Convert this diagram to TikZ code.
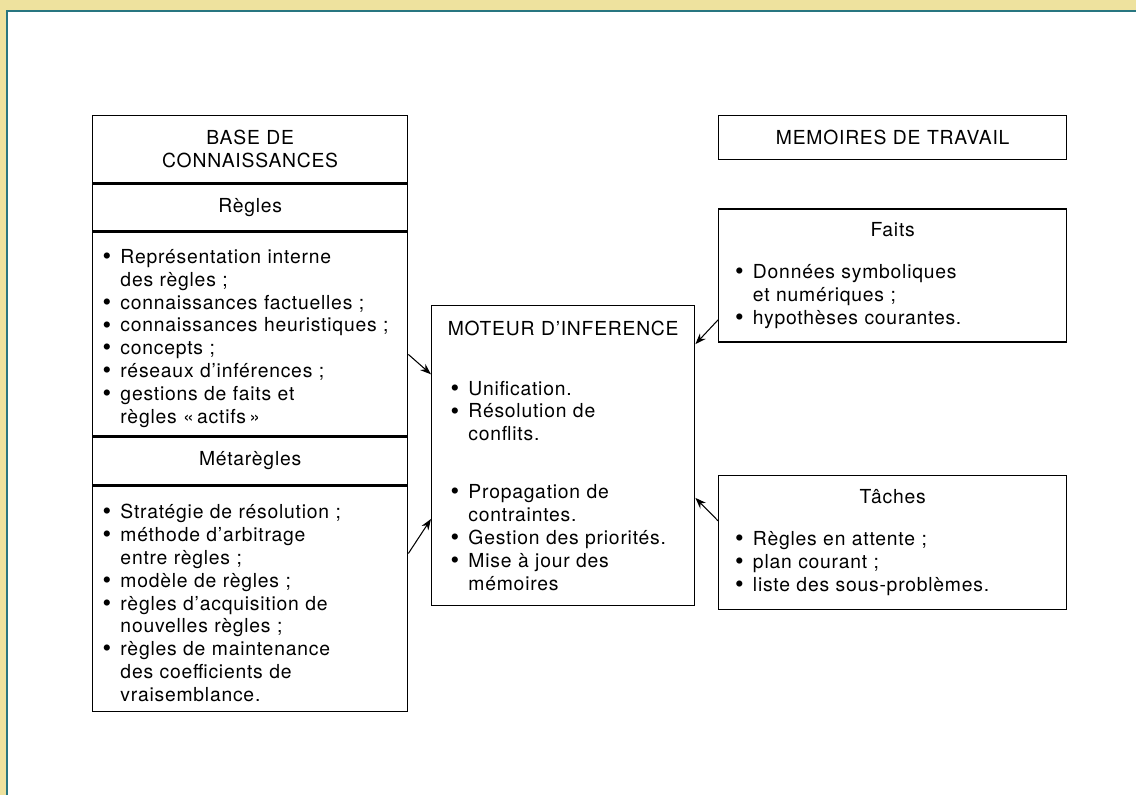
\documentclass[tikz,border=0pt]{standalone}
\usepackage{fontspec}
\setmainfont{TeX Gyre Heros}[LetterSpace=4]
\usetikzlibrary{positioning, arrows.meta, calc}

\definecolor{Bande}{RGB}{238,226,158}
\definecolor{Filet}{RGB}{40,118,128}

\tikzstyle{titre} = [rectangle, draw, line width=0.8pt, minimum width=6.3cm, text width=5.8cm, align=center, inner sep=0pt]
\tikzstyle{liste} = [rectangle, draw, line width=0.8pt, inner ysep=0pt, align=left]
\tikzstyle{fleche} = [line width=0.6pt, -{Stealth[length=2.2mm, width=1.6mm]}]

% puce avec retrait suspendu
\newcommand{\puce}{\par\noindent\hangindent=0.92em\hangafter=1\makebox[0.92em][l]{\raisebox{-0.12ex}{\fontsize{14}{13}\selectfont\textbullet}}}

\begin{document}
\begin{tikzpicture}[x=0.02cm, y=-0.02cm, font=\fontsize{11}{13}\selectfont]
\useasboundingbox (0,0) rectangle (1136,795);
\fill[white] (0,0) rectangle (1136,795);
\fill[Bande] (0,0) rectangle (1136,10);
\fill[Bande] (0,0) rectangle (6,795);
\draw[Filet, line width=1pt] (7,795) -- (7,11) -- (1136,11);

% base de connaissances
\node[titre, minimum height=1.34cm, anchor=north west] (base) at (92,115) {BASE DE\\CONNAISSANCES};
\node[titre, minimum height=0.94cm, below=0pt of base] (regles) {Règles};
\node[liste, minimum height=4.06cm, text width=5.9cm, inner xsep=0.2cm, below=0pt of regles] (regliste) {%
  \puce Représentation interne\newline des règles~;
  \puce connaissances factuelles~;
  \puce connaissances heuristiques~;
  \puce concepts~;
  \puce réseaux d’inférences~;
  \puce gestions de faits et\newline règles «\,actifs\,»\par};
\node[titre, minimum height=0.96cm, below=0pt of regliste] (meta) {Métarègles};
\node[liste, minimum height=4.5cm, text width=5.9cm, inner xsep=0.2cm, below=0pt of meta] (metaliste) {%
  \puce Stratégie de résolution~;
  \puce méthode d’arbitrage\newline entre règles~;
  \puce modèle de règles~;
  \puce règles d’acquisition de\newline nouvelles règles~;
  \puce règles de maintenance\newline des coefficients de\newline vraisemblance.\par};

% moteur
\node[liste, minimum height=6cm, text width=4.5cm, inner xsep=0.38cm, anchor=north west] (moteur) at (431,305) {%
  \makebox[\linewidth]{MOTEUR D’INFERENCE}\par\vspace{21pt}
  \puce Unification.
  \puce Résolution de\newline conflits.\par\vspace{20pt}
  \puce Propagation de\newline contraintes.
  \puce Gestion des priorités.
  \puce Mise à jour des\newline mémoires\par};

% memoires de travail
\node[titre, minimum width=6.96cm, minimum height=0.88cm, anchor=north west] (memoires) at (718,115) {MEMOIRES DE TRAVAIL};
\node[liste, minimum height=2.66cm, text width=6.3cm, inner xsep=0.33cm, below=0.96cm of memoires] (faits) {%
  {\centering Faits\par}\vspace{11pt}
  \puce Données symboliques\newline et numériques~;
  \puce hypothèses courantes.\par};
\node[liste, minimum height=2.68cm, text width=6.3cm, inner xsep=0.33cm, below=2.64cm of faits] (taches) {%
  {\centering Tâches\par}\vspace{11pt}
  \puce Règles en attente~;
  \puce plan courant~;
  \puce liste des sous-problèmes.\par};

% liaisons vers le moteur
\draw[fleche] ($(regliste.north east)!0.6!(regliste.south east)$) -- ($(moteur.north west)!0.23!(moteur.south west)$);
\draw[fleche] ($(metaliste.north east)!0.3!(metaliste.south east)$) -- ($(moteur.north west)!0.71!(moteur.south west)$);
\draw[fleche] ($(faits.north west)!0.83!(faits.south west)$) -- ($(moteur.north east)!0.13!(moteur.south east)$);
\draw[fleche] ($(taches.north west)!0.34!(taches.south west)$) -- ($(moteur.north east)!0.64!(moteur.south east)$);
\end{tikzpicture}
\end{document}
